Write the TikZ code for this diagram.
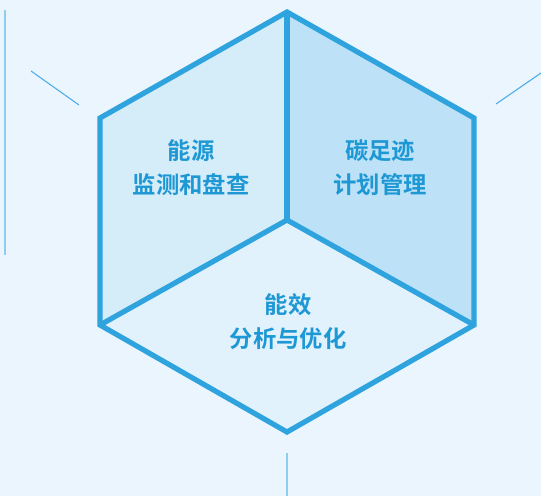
\documentclass[tikz,border=0pt]{standalone}
\usepackage{fontspec}
\newfontfamily\cjk{Noto Sans CJK SC}[BoldFont={Noto Sans CJK SC Bold}]
\definecolor{bg}{HTML}{EAF5FD}
\definecolor{edge}{HTML}{2FA3DE}
\definecolor{faceL}{HTML}{D5ECF9}
\definecolor{faceR}{HTML}{BDE2F7}
\definecolor{faceB}{HTML}{E2F2FC}
\definecolor{txt}{HTML}{1E98D4}
\definecolor{deco}{HTML}{8CCDF0}
\definecolor{decod}{HTML}{4AAEE6}
\begin{document}
\begin{tikzpicture}[x=0.75pt,y=-0.75pt,
  label/.style={font=\cjk\bfseries\fontsize{17.5}{25.5}\selectfont, text=txt, align=center, inner sep=0pt},
  hexedge/.style={draw=edge, line width=3.9pt, line join=miter},
  thin deco/.style={draw=decod, line width=0.8pt},
  soft deco/.style={draw=deco, line width=1.5pt}]
\fill[bg] (0,0) rectangle (541,496);
\useasboundingbox (0,0) rectangle (541,496);
% vertices
\coordinate (T) at (287,12);
\coordinate (UR) at (474,118);
\coordinate (LR) at (474,325);
\coordinate (B) at (287,432);
\coordinate (LL) at (100,325);
\coordinate (UL) at (100,118);
\coordinate (C) at (287,220);
% faces
\fill[faceL] (T) -- (UL) -- (LL) -- (C) -- cycle;
\fill[faceR] (T) -- (UR) -- (LR) -- (C) -- cycle;
\fill[faceB] (C) -- (LL) -- (B) -- (LR) -- cycle;
% decoration lines
\coordinate (d1a) at (5,10); \coordinate (d1b) at (5,255);
\coordinate (d2a) at (31,71); \coordinate (d2b) at (79,105);
\coordinate (d3a) at (496,104); \coordinate (d3b) at (541,73);
\coordinate (d4a) at (287,453); \coordinate (d4b) at (287,496);
\draw[soft deco] (d1a) -- (d1b);
\draw[thin deco] (d2a) -- (d2b);
\draw[thin deco] (d3a) -- (d3b);
\draw[soft deco] (d4a) -- (d4b);
% edges
\draw[hexedge] (T) -- (UR) -- (LR) -- (B) -- (LL) -- (UL) -- cycle;
\draw[hexedge] (C) -- (T);
\draw[hexedge] (C) -- (LL);
\draw[hexedge] (C) -- (LR);
% labels
\node[label] (n1) at (191,168) {能源\\监测和盘查};
\node[label] (n2) at (380,168) {碳足迹\\计划管理};
\node[label] (n3) at (288,322) {能效\\分析与优化};
\end{tikzpicture}
\end{document}
